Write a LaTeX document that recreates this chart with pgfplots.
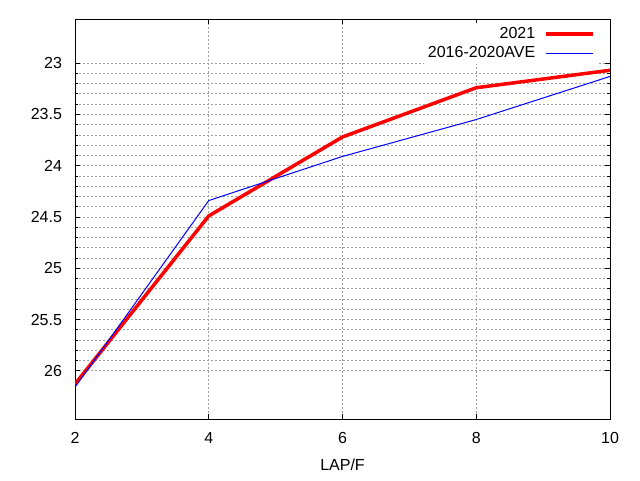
\documentclass[border=0pt]{standalone}
\usepackage{pgfplots}
\pgfplotsset{compat=1.18}
\usepackage{fontspec}
\setmainfont{Liberation Sans}
\begin{document}
\fontsize{16}{19}\selectfont
\begin{tikzpicture}[x=1pt,y=1pt]
\useasboundingbox (0,0) rectangle (640,480);
\begin{axis}[
  at={(75pt,61pt)}, anchor=south west,
  scale only axis, width=535pt, height=400pt,
  xmin=2, xmax=10, ymin=22.57, ymax=26.47, y dir=reverse,
  xtick={2,4,6,8,10},
  ytick={23,23.5,24,24.5,25,25.5,26},
  minor y tick num=4,
  tick align=inside,
  major tick length=5pt, minor tick length=3pt,
  tick style={black, line width=0.8pt},
  axis line style={black, line width=1pt},
  grid=both,
  major grid style={gray!75, line width=0.8pt, dash pattern=on 2pt off 2pt},
  minor grid style={gray!75, line width=0.8pt, dash pattern=on 2pt off 2pt},
  /pgf/number format/assume math mode=true,
  ticklabel style={font=\fontsize{16}{19}\selectfont},
  yticklabel style={xshift=-7.5pt},
  xticklabel style={yshift=-7.5pt},
  yticklabel={\pgfmathprintnumber[fixed,precision=1]{\tick}},
  xlabel={LAP/F},
  xlabel style={at={(axis description cs:0.5,0)}, anchor=center, yshift=-46pt, font=\fontsize{16}{19}\selectfont},
  legend style={at={(axis description cs:1,1)}, anchor=north east, xshift=-13pt, yshift=-4pt,
    draw=none, fill=white, font=\fontsize{16}{19}\selectfont, row sep=1.5pt, inner sep=2pt,
    /tikz/every odd column/.append style={column sep=7pt}},
  legend cell align=right,
  legend plot pos=right,
  legend image code/.code={\draw[#1] (0pt,0pt) -- (47pt,0pt);},
  clip=true,
]
\addplot[red, line width=3.5pt, line join=round] coordinates {
  (2,26.13) (4,24.49) (6,23.72) (8,23.24) (10,23.07)
};
\addlegendentry{2021}
\addplot[blue, line width=1pt] coordinates {
  (2,26.16) (4,24.34) (6,23.91) (8,23.55) (10,23.13)
};
\addlegendentry{2016-2020AVE}
\end{axis}
\end{tikzpicture}
\end{document}
